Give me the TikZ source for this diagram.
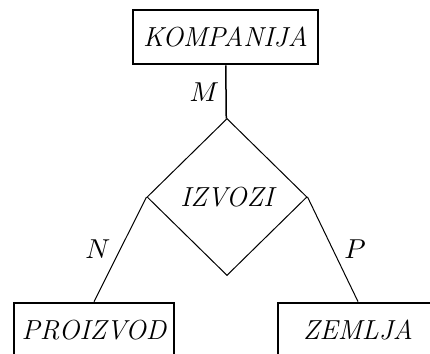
\documentclass[tikz,border=0pt]{standalone}
\usepackage{amssymb}
\usepackage{amsmath}
\usepackage{xcolor}
\usepackage{tikz}
\usetikzlibrary{shapes.geometric}

\begin{document}
\begin{tikzpicture}[x=0.4pt, y=-0.4pt,
  entitet/.style={draw, line width=1.1pt, rectangle, minimum width=64pt, minimum height=21.6pt, inner xsep=2pt, font=\fontsize{11}{13}\selectfont\itshape},
  veza/.style={draw, line width=0.4pt, diamond, minimum width=64pt, minimum height=62.8pt, inner sep=0pt, font=\fontsize{11}{13}\selectfont\itshape},
  kard/.style={inner sep=1pt, font=\fontsize{11}{13}\selectfont}]
\useasboundingbox (0,0) rectangle (430,353);
\clip (0,0) rectangle (430,353);
\node[entitet, minimum width=74pt] (kompanija) at (225.5,37) {KOMPANIJA};
\node[veza] (izvozi) at (227,197) {IZVOZI};
\node[entitet] (proizvod) at (94,330) {PROIZVOD};
\node[entitet] (zemlja) at (358,330) {ZEMLJA};
\draw[line width=0.6pt] (kompanija) -- node[kard, left=1.4pt] {$M$} (izvozi);
\draw[line width=0.4pt] (izvozi.west) -- node[kard, left=2.8pt] {$N$} (proizvod.north);
\draw[line width=0.4pt] (izvozi.east) -- node[kard, right=3.4pt] {$P$} (zemlja.north);
\end{tikzpicture}
\end{document}
